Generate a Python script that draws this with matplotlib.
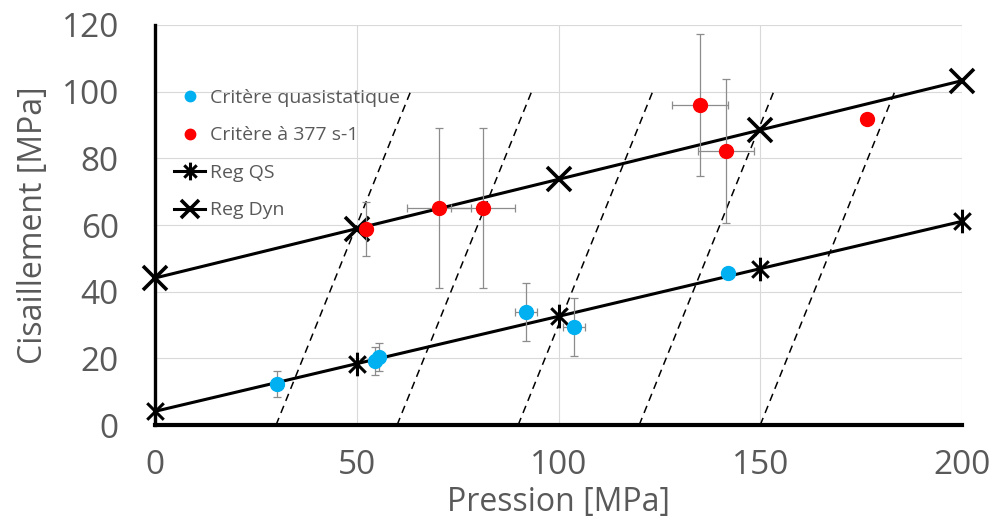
import matplotlib
matplotlib.use("Agg")
import matplotlib.pyplot as plt
from matplotlib.path import Path
import numpy as np

plt.rcParams['font.family'] = ['Open Sans', 'DejaVu Sans']

# ---- data ----
qs_x = [30.2, 54.6, 55.4, 91.9, 103.8, 142.0]
qs_y = [12.3, 19.3, 20.3, 33.9, 29.4, 45.6]
qs_yerr = [4.0, 4.2, 4.2, 8.7, 8.7, 0.0]
qs_xerr = [0.0, 0.0, 0.0, 2.8, 2.8, 0.0]

dyn_x = [52.3, 70.4, 81.3, 135.1, 141.5, 176.5]
dyn_y = [58.8, 65.1, 65.1, 96.0, 82.2, 91.8]
dyn_yerr = [8.0, 24.0, 24.0, 21.3, 21.7, 0.0]
dyn_xerr = [1.0, 8.0, 8.0, 7.0, 7.0, 0.0]

reg_x = [0, 50, 100, 150, 200]
reg_qs_y = [4.1, 18.4, 32.6, 46.9, 61.1]
reg_dyn_y = [44.1, 58.9, 73.7, 88.5, 103.3]

dash_x0 = [30, 60, 90, 120, 150]
dash_slope = 3.0
dash_top = 100.5

x_ticks = [0, 50, 100, 150, 200]
y_ticks = [0, 20, 40, 60, 80, 100, 120]

gray = '#595959'

fig = plt.figure(figsize=(9.95, 5.24), dpi=100)
ax = fig.add_axes([155/995, 1-425/524, (962-155)/995, (425-25)/524])
ax.set_xlim(0, 200)
ax.set_ylim(0, 120)

ax.set_xticks(x_ticks)
ax.set_yticks(y_ticks)
ax.grid(True, color='#d9d9d9', lw=0.8, zorder=0)
ax.set_axisbelow(True)
ax.tick_params(length=0, labelsize=24, colors=gray)
ax.tick_params(axis='x', pad=17)
ax.tick_params(axis='y', pad=26)
for lab in ax.get_xticklabels() + ax.get_yticklabels():
    lab.set_color(gray)

for s in ['top', 'right']:
    ax.spines[s].set_visible(False)
ax.spines['left'].set_linewidth(2.4)
ax.spines['bottom'].set_linewidth(3.0)
ax.spines['left'].set_zorder(1)
ax.spines['bottom'].set_zorder(1)

ax.set_xlabel('Pression [MPa]', fontsize=23, color=gray, labelpad=3)
ax.set_ylabel('Cisaillement [MPa]', fontsize=23, color=gray, labelpad=8)

# dashed lines
for x0 in dash_x0:
    xs = [x0, x0 + dash_top / dash_slope]
    ys = [0, dash_top]
    ax.plot(xs, ys, color='black', lw=1.1, ls=(0, (5, 3.5)), zorder=2)

# asterisk marker (X + vertical bar)
ast = Path([(-0.7, -0.7), (0.7, 0.7), (-0.7, 0.7), (0.7, -0.7), (0, -1), (0, 1)],
           [Path.MOVETO, Path.LINETO, Path.MOVETO, Path.LINETO, Path.MOVETO, Path.LINETO])

ax.plot(reg_x, reg_qs_y, color='black', lw=2.2, marker=ast, ms=17, mew=2.2,
        zorder=3, clip_on=False, label='Reg QS')
ax.plot(reg_x, reg_dyn_y, color='black', lw=2.2, marker='x', ms=17, mew=2.6,
        zorder=3, clip_on=False, label='Reg Dyn')

# error bars
ax.errorbar(qs_x, qs_y, yerr=qs_yerr, xerr=qs_xerr, fmt='none', ecolor='#8c8c8c',
            elinewidth=0.9, capsize=3, capthick=0.9, zorder=4)
ax.errorbar(dyn_x, dyn_y, yerr=dyn_yerr, xerr=dyn_xerr, fmt='none', ecolor='#8c8c8c',
            elinewidth=0.9, capsize=3, capthick=0.9, zorder=4)

ax.plot(qs_x, qs_y, ls='none', marker='o', ms=10, color='#00b0f0', mec='#00b0f0',
        zorder=5, label='Critère quasistatique')
ax.plot(dyn_x, dyn_y, ls='none', marker='o', ms=10, color='#ff0000', mec='#ff0000',
        zorder=5, label='Critère à 377 s-1')

h, l = ax.get_legend_handles_labels()
order = [2, 3, 0, 1]
leg = ax.legend([h[i] for i in order], [l[i] for i in order], loc='upper left',
                bbox_to_anchor=(174/995, 1-89/524), bbox_transform=fig.transFigure,
                frameon=False, fontsize=14, handlelength=1.6, handletextpad=0.25,
                labelspacing=1.0, markerscale=0.75, borderaxespad=0, borderpad=0)
for t in leg.get_texts():
    t.set_color(gray)

fig.savefig('out.png', dpi=100)
